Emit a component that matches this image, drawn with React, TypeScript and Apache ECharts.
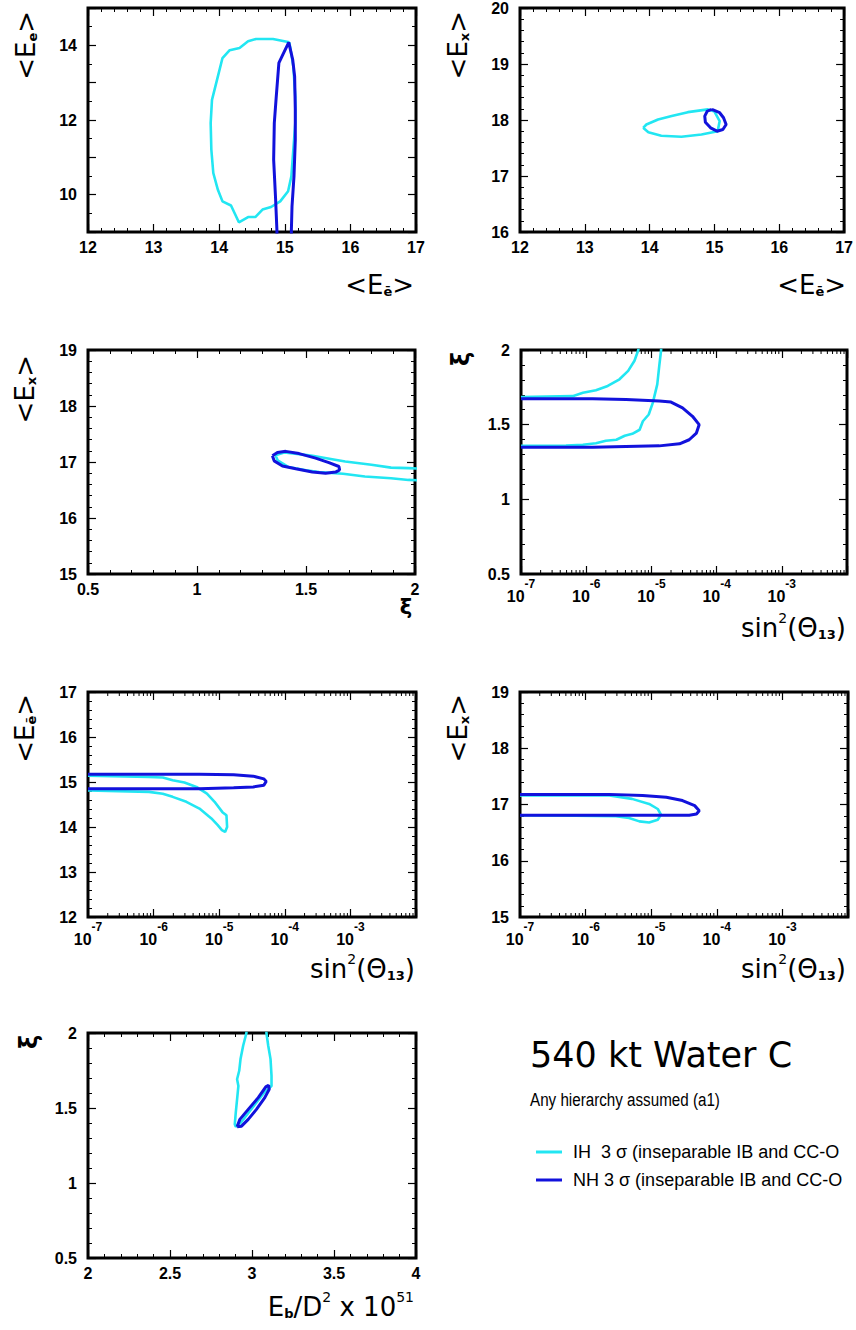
import React, { useEffect, useRef } from 'react';
import * as echarts from 'echarts';

const CYAN = '#22e6f2';
const BLUE = '#1212dc';
const IH_NAME = 'IH  3 σ (inseparable IB and CC-O';
const NH_NAME = 'NH 3 σ (inseparable IB and CC-O';

// Panel 1: <E_e> vs <E_ebar>
const p1IH = [
  [15.07, 14.08], [14.82, 14.17], [14.56, 14.17], [14.44, 14.11], [14.31, 13.93], [14.16, 13.87],
  [14.05, 13.66], [13.98, 13.17], [13.89, 12.54], [13.87, 11.92], [13.88, 11.21], [13.91, 10.58],
  [13.98, 10.13], [14.05, 9.82], [14.18, 9.71], [14.30, 9.26], [14.44, 9.40], [14.55, 9.40],
  [14.66, 9.60], [14.79, 9.67], [14.93, 9.82], [15.05, 10.09], [15.10, 10.49], [15.13, 11.21],
  [15.16, 11.92], [15.16, 12.63], [15.13, 13.44], [15.07, 14.08],
];
const p1NH = [
  [14.88, 8.8], [14.88, 9.04], [14.86, 9.87], [14.83, 10.94], [14.84, 11.92], [14.87, 12.63],
  [14.91, 13.53], [14.97, 13.75], [15.06, 14.08], [15.12, 13.62], [15.15, 13.17], [15.16, 12.28],
  [15.16, 11.47], [15.14, 10.49], [15.11, 9.69], [15.10, 9.04], [15.10, 8.8],
];

// Panel 2: <E_x> vs <E_ebar>
const p2IH = [
  [13.90, 17.86], [13.95, 17.92], [14.13, 18.01], [14.34, 18.07], [14.59, 18.14], [14.90, 18.19],
  [15.00, 18.15], [15.08, 17.98], [15.05, 17.80], [14.80, 17.74], [14.49, 17.70], [14.18, 17.72],
  [13.98, 17.78], [13.90, 17.86],
];
const p2NH = [
  [14.96, 18.19], [15.08, 18.13], [15.14, 18.04], [15.18, 17.92], [15.13, 17.83], [15.04, 17.80],
  [14.94, 17.86], [14.86, 17.96], [14.85, 18.07], [14.89, 18.16], [14.96, 18.19],
];

// Panel 3: <E_x> vs xi
const p3IH = [
  [2.05, 16.88], [1.97, 16.89], [1.89, 16.90], [1.80, 16.95], [1.68, 17.01], [1.62, 17.05],
  [1.53, 17.11], [1.45, 17.15], [1.40, 17.17], [1.36, 17.12], [1.37, 17.03], [1.42, 16.91],
  [1.50, 16.85], [1.56, 16.82], [1.67, 16.79], [1.77, 16.74], [1.89, 16.71], [1.97, 16.68],
  [2.05, 16.67],
];
const p3NH = [
  [1.346, 17.11], [1.369, 17.17], [1.407, 17.19], [1.468, 17.15], [1.544, 17.07], [1.605, 16.99],
  [1.651, 16.92], [1.654, 16.86], [1.636, 16.82], [1.59, 16.80], [1.529, 16.82], [1.453, 16.88],
  [1.392, 16.93], [1.354, 17.02], [1.346, 17.11],
];

// Panel 4: xi vs sin^2(theta13)
const p4IHa = [
  [6.5e-6, 2.05], [6.3e-6, 2.0], [5.5e-6, 1.928], [4.4e-6, 1.86], [3.24e-6, 1.804], [2.14e-6, 1.759],
  [1.41e-6, 1.730], [8.9e-7, 1.714], [6.2e-7, 1.691], [3.9e-7, 1.690], [1e-7, 1.685],
];
const p4IHb = [
  [1e-7, 1.358], [4.9e-7, 1.360], [8.9e-7, 1.365], [1.41e-6, 1.376], [2.0e-6, 1.392], [2.9e-6, 1.399],
  [3.9e-6, 1.426], [5.1e-6, 1.439], [6.6e-6, 1.466], [7.4e-6, 1.523], [9.1e-6, 1.568], [1.05e-5, 1.646],
  [1.23e-5, 1.77], [1.32e-5, 1.894], [1.41e-5, 2.0], [1.42e-5, 2.05],
];
const p4NH = [
  [1e-7, 1.673], [1.26e-6, 1.673], [4.07e-6, 1.669], [1.32e-5, 1.658], [2.0e-5, 1.651], [3.0e-5, 1.613],
  [4.27e-5, 1.556], [5.4e-5, 1.50], [4.9e-5, 1.444], [3.8e-5, 1.399], [2.7e-5, 1.372], [1.32e-5, 1.358],
  [4.07e-6, 1.354], [1.26e-6, 1.349], [1e-7, 1.349],
];

// Panel 5: <E_ebar> vs sin^2(theta13)
const p5IH = [
  [1e-7, 15.14], [8.5e-7, 15.11], [1.38e-6, 15.10], [1.95e-6, 15.04], [2.95e-6, 14.99], [4.5e-6, 14.89],
  [6.5e-6, 14.74], [8.5e-6, 14.56], [1.12e-5, 14.33], [1.29e-5, 14.26], [1.32e-5, 14.0], [1.23e-5, 13.89],
  [1.10e-5, 13.93], [9.5e-6, 14.04], [7.6e-6, 14.19], [5.0e-6, 14.41], [3.16e-6, 14.56], [1.95e-6, 14.67],
  [1.38e-6, 14.74], [8.5e-7, 14.78], [1e-7, 14.81],
];
const p5NH = [
  [1e-7, 15.17], [5.0e-6, 15.17], [1.66e-5, 15.16], [3.3e-5, 15.13], [4.8e-5, 15.07], [5.2e-5, 15.01],
  [4.8e-5, 14.93], [3.3e-5, 14.89], [1.66e-5, 14.87], [5.0e-6, 14.85], [1e-7, 14.85],
];

// Panel 6: <E_x> vs sin^2(theta13)
const p6IH = [
  [1e-7, 17.16], [2.3e-6, 17.16], [5.1e-6, 17.10], [9.3e-6, 17.01], [1.26e-5, 16.92], [1.41e-5, 16.82],
  [1.26e-5, 16.73], [9.3e-6, 16.68], [6.6e-6, 16.70], [4.6e-6, 16.76], [2.9e-6, 16.79], [6.9e-7, 16.80],
  [1e-7, 16.81],
];
const p6NH = [
  [1e-7, 17.18], [2.3e-6, 17.18], [7.4e-6, 17.16], [1.7e-5, 17.13], [3.0e-5, 17.07], [4.6e-5, 16.98],
  [5.4e-5, 16.89], [4.9e-5, 16.83], [3.8e-5, 16.81], [1.32e-5, 16.81], [4.07e-6, 16.81], [1e-7, 16.81],
];

// Panel 7: xi vs E_b/D^2
const p7IH = [
  [2.966, 2.05], [2.966, 2.0], [2.946, 1.915], [2.930, 1.826], [2.922, 1.748], [2.909, 1.692],
  [2.917, 1.647], [2.909, 1.558], [2.901, 1.469], [2.895, 1.391], [2.901, 1.375], [2.93, 1.40],
  [2.98, 1.47], [3.03, 1.54], [3.08, 1.61], [3.119, 1.647], [3.119, 1.714], [3.113, 1.826],
  [3.099, 1.915], [3.088, 2.0], [3.088, 2.05],
];
const p7NH = [
  [2.909, 1.375], [2.926, 1.424], [2.977, 1.491], [3.038, 1.569], [3.084, 1.641], [3.101, 1.652],
  [3.105, 1.625], [3.078, 1.569], [3.027, 1.491], [2.977, 1.424], [2.936, 1.379], [2.909, 1.375],
];

// Axis ranges
const P1_X = { min: 12, max: 17, interval: 1, minor: 5 };
const P1_Y = { min: 9, max: 15, interval: 1, minor: 2, labelStep: 2 };
const P2_X = { min: 12, max: 17, interval: 1, minor: 5 };
const P2_Y = { min: 16, max: 20, interval: 1, minor: 5 };
const P3_X = { min: 0.5, max: 2, interval: 0.5, minor: 5 };
const P3_Y = { min: 15, max: 19, interval: 1, minor: 5 };
const LOG_X = { log: true, min: 1e-7, max: 1e-2, lastLabel: -3 };
const P4_Y = { min: 0.5, max: 2, interval: 0.5, minor: 5 };
const P5_Y = { min: 12, max: 17, interval: 1, minor: 5 };
const P6_Y = { min: 15, max: 19, interval: 1, minor: 5 };
const P7_X = { min: 2, max: 4, interval: 0.5, minor: 5 };
const P7_Y = { min: 0.5, max: 2, interval: 0.5, minor: 5 };

const LOG_MANTISSAS = [2, 3, 4, 5, 6, 7, 8, 9];
const LOG_DECADES = [-7, -6, -5, -4, -3];

const GRIDS = [
  { left: 88, top: 8, width: 328, height: 224 },
  { left: 520, top: 8, width: 327, height: 224 },
  { left: 88, top: 350, width: 327, height: 224 },
  { left: 521, top: 350, width: 326, height: 224 },
  { left: 88, top: 692, width: 328, height: 225 },
  { left: 520, top: 692, width: 328, height: 225 },
  { left: 88, top: 1033, width: 328, height: 225 },
];

const LF = 'Liberation Sans';
const TF = 'DejaVu Sans';

function makeAxis(spec: any, gridIndex: number, position: string, showLabel: boolean) {
  const isX = position === 'bottom' || position === 'top';
  const ax: any = {
    type: spec.log ? 'log' : 'value',
    gridIndex,
    position,
    min: spec.min,
    max: spec.max,
    axisLine: { show: false },
    splitLine: { show: false },
    splitArea: { show: false },
    minorSplitLine: { show: false },
    axisTick: { show: true, inside: true, length: 8, lineStyle: { color: '#000', width: 1.2 } },
    minorTick: spec.log
      ? { show: false }
      : { show: true, splitNumber: spec.minor, length: 4, lineStyle: { color: '#000', width: 1 } },
  };
  if (spec.log) ax.logBase = 10;
  else ax.interval = spec.interval;
  if (!showLabel) {
    ax.axisLabel = { show: false };
  } else if (spec.log) {
    ax.axisLabel = {
      show: true,
      margin: 4,
      formatter: (v: number) => {
        const e = Math.round(Math.log10(v));
        return e > spec.lastLabel ? '' : `{b|10}{s|${e}}`;
      },
      rich: {
        b: { fontSize: 16, fontWeight: 'bold', fontFamily: LF, color: '#000', lineHeight: 26, verticalAlign: 'bottom' },
        s: { fontSize: 12, fontWeight: 'bold', fontFamily: LF, color: '#000', lineHeight: 10, verticalAlign: 'top' },
      },
    };
  } else {
    ax.axisLabel = {
      show: true,
      margin: isX ? 7 : 11,
      fontSize: 16,
      fontWeight: 'bold',
      fontFamily: LF,
      color: '#000',
      formatter: (v: number) =>
        spec.labelStep && Math.round(v) % spec.labelStep !== 0 ? '' : String(v),
    };
  }
  return ax;
}

function lineSeries(name: string, color: string, data: number[][], i: number, width: number, z: number) {
  return {
    type: 'line',
    name,
    xAxisIndex: 2 * i,
    yAxisIndex: 2 * i,
    data,
    color,
    showSymbol: false,
    symbol: 'none',
    smooth: false,
    clip: true,
    silent: true,
    z,
    lineStyle: { color, width },
    itemStyle: { color },
    emphasis: { disabled: true },
  };
}

function logMinorSeries(i: number, ymin: number) {
  const values: number[][] = [];
  LOG_DECADES.forEach((d) => LOG_MANTISSAS.forEach((m) => values.push([m * Math.pow(10, d), ymin])));
  return {
    type: 'custom',
    xAxisIndex: 2 * i,
    yAxisIndex: 2 * i,
    silent: true,
    z: 2,
    data: values,
    encode: { x: 0, y: 1 },
    renderItem: (params: any, api: any) => {
      const x = api.coord([api.value(0), api.value(1)])[0];
      const cs = params.coordSys;
      const st = { stroke: '#000', lineWidth: 1 };
      return {
        type: 'group',
        children: [
          { type: 'line', shape: { x1: x, y1: cs.y + cs.height, x2: x, y2: cs.y + cs.height - 4 }, style: st },
          { type: 'line', shape: { x1: x, y1: cs.y, x2: x, y2: cs.y + 4 }, style: st },
        ],
      };
    },
  };
}

const RICH = {
  m: { fontSize: 26, fontFamily: TF, lineHeight: 30, verticalAlign: 'bottom', fill: '#000' },
  s: { fontSize: 13, fontFamily: TF, fontWeight: 'bold', lineHeight: 13, verticalAlign: 'bottom', fill: '#000' },
  p: { fontSize: 14, fontFamily: TF, lineHeight: 14, verticalAlign: 'top', fill: '#000' },
  g: { fontSize: 24, fontFamily: TF, fontWeight: 'bold', lineHeight: 30, verticalAlign: 'bottom', fill: '#000' },
  h: { fontSize: 21, fontFamily: TF, fontWeight: 'bold', lineHeight: 26, verticalAlign: 'bottom', fill: '#000' },
};

function yTitle(x: number, yTop: number, text: string) {
  return {
    type: 'text',
    x,
    y: yTop,
    rotation: Math.PI / 2,
    z: 100,
    style: { text, rich: RICH, align: 'right', textAlign: 'right', verticalAlign: 'middle', textVerticalAlign: 'middle' },
  };
}
function yTitleCenter(x: number, y: number, text: string) {
  return {
    type: 'text',
    x,
    y,
    rotation: Math.PI / 2,
    z: 100,
    style: { text, rich: RICH, align: 'center', textAlign: 'center', verticalAlign: 'middle', textVerticalAlign: 'middle' },
  };
}
function xTitle(xRight: number, y: number, text: string, align = 'right') {
  return {
    type: 'text',
    x: xRight,
    y,
    z: 100,
    style: { text, rich: RICH, align, textAlign: align, verticalAlign: 'middle', textVerticalAlign: 'middle' },
  };
}

function buildOption() {
  const panels = [
    { x: P1_X, y: P1_Y, ih: [p1IH], nh: [p1NH] },
    { x: P2_X, y: P2_Y, ih: [p2IH], nh: [p2NH] },
    { x: P3_X, y: P3_Y, ih: [p3IH], nh: [p3NH] },
    { x: LOG_X, y: P4_Y, ih: [p4IHa, p4IHb], nh: [p4NH] },
    { x: LOG_X, y: P5_Y, ih: [p5IH], nh: [p5NH] },
    { x: LOG_X, y: P6_Y, ih: [p6IH], nh: [p6NH] },
    { x: P7_X, y: P7_Y, ih: [p7IH], nh: [p7NH] },
  ];
  const grid: any[] = [];
  const xAxis: any[] = [];
  const yAxis: any[] = [];
  const series: any[] = [];
  panels.forEach((p: any, i) => {
    grid.push({ ...GRIDS[i], show: true, borderColor: '#000', borderWidth: 3, backgroundColor: 'transparent', containLabel: false });
    xAxis.push(makeAxis(p.x, i, 'bottom', true), makeAxis(p.x, i, 'top', false));
    yAxis.push(makeAxis(p.y, i, 'left', true), makeAxis(p.y, i, 'right', false));
    p.ih.forEach((d: number[][]) => series.push(lineSeries(IH_NAME, CYAN, d, i, 2.6, 3)));
    p.nh.forEach((d: number[][]) => series.push(lineSeries(NH_NAME, BLUE, d, i, 3, 4)));
    if (p.x.log) series.push(logMinorSeries(i, p.y.min));
  });

  const EE = '{m|<E}{s|e}{m|>}';
  const EEBAR = '{m|<E}{s|ē}{m|>}';
  const EX = '{m|<E}{s|x}{m|>}';
  const XI = '{g|ξ}';
  const XI2 = '{h|ξ}';
  const SIN = '{m|sin}{p|2}{m|(Θ}{s|13}{m|)}';
  const EB = '{m|E}{s|b}{m|/D}{p|2}{m| x 10}{p|51}';

  const graphic: any[] = [
    yTitle(24, 11, EE),
    yTitle(456, 11, EX),
    yTitle(23, 355, EX),
    yTitleCenter(458, 359, XI),
    yTitle(23, 694, EEBAR),
    yTitle(456, 694, EX),
    yTitleCenter(26, 1042, XI),
    xTitle(414, 283, EEBAR),
    xTitle(846, 283, EEBAR),
    xTitle(406, 604, XI2, 'center'),
    xTitle(846, 626, SIN),
    xTitle(415, 967, SIN),
    xTitle(846, 967, SIN),
    xTitle(414, 1305, EB),
    {
      type: 'text', x: 530, y: 1055, z: 100,
      style: { text: '540 kt Water C', fontSize: 35, fontFamily: TF, fill: '#000', align: 'left', textAlign: 'left', verticalAlign: 'middle', textVerticalAlign: 'middle' },
    },
    {
      type: 'text', x: 530, y: 1099, z: 100, scaleX: 0.8,
      style: { text: 'Any hierarchy assumed (a1)', fontSize: 19, fontFamily: LF, fill: '#000', align: 'left', textAlign: 'left', verticalAlign: 'middle', textVerticalAlign: 'middle' },
    },
  ];

  return {
    animation: false,
    backgroundColor: '#fff',
    textStyle: { fontFamily: LF },
    tooltip: { show: false },
    legend: {
      data: [IH_NAME, NH_NAME],
      orient: 'vertical',
      left: 536,
      top: 1143,
      itemWidth: 26,
      itemHeight: 3,
      itemGap: 10,
      icon: 'rect',
      selectedMode: false,
      padding: 0,
      textStyle: { fontSize: 18, fontFamily: LF, color: '#000', padding: [0, 0, 0, 6] },
    },
    grid,
    xAxis,
    yAxis,
    series,
    graphic,
  };
}

export default function App() {
  const ref = useRef<HTMLDivElement>(null);
  useEffect(() => {
    if (!ref.current) return;
    const chart = echarts.init(ref.current, null, { renderer: 'svg' });
    chart.setOption(buildOption() as any);
    return () => chart.dispose();
  }, []);
  return (
    <div
      ref={ref}
      style={{ position: 'absolute', left: 0, top: 0, width: 856, height: 1330, background: '#fff' }}
    />
  );
}
